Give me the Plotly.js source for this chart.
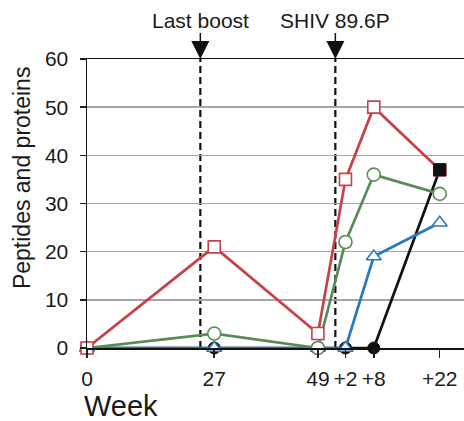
<!DOCTYPE html>
<html>
<head>
<meta charset="utf-8">
<script src="https://cdn.plot.ly/plotly-3.0.1.min.js"></script>
<style>html,body{margin:0;padding:0;background:#fff;}#chart{width:464px;height:421px;}</style>
</head>
<body>
<div id="chart"></div>
<script>
// Week positions on a continuous time axis (challenge at ~week 52.85)
const weekPos = [0, 27, 49, 54.85, 60.85, 74.85];
const tickText = ['0', '27', '49', '+2', '+8', '+22'];
const lastBoostWeek = 24.05;
const challengeWeek = 52.7;

// Series values (number of peptides and proteins)
const redValues   = [0, 21, 3, 35, 50, 37];
const greenValues = [0, 3, 0, 22, 36, 32];
const blueValues  = [0, 0, 0, 0, 19, 26];
const blackValues = [0, 0, 0, 0, 0, 37];

const RED = '#c8404a', GREEN = '#5a8a58', BLUE = '#2a7abb', BLACK = '#111111';
const FONT = 'Liberation Sans, Arial, sans-serif';

function openTrace(y, color, symbol, size) {
  return {
    x: weekPos, y: y, type: 'scatter', mode: 'lines+markers', cliponaxis: false,
    line: {color: color, width: 2.7},
    marker: {symbol: symbol, size: size, color: '#ffffff', line: {color: color, width: 1.6}},
    hoverinfo: 'skip'
  };
}

const blackSymbols = blackValues.map((v, i) => i === blackValues.length - 1 ? 'square' : 'circle');
const traces = [
  {
    x: weekPos, y: blackValues, type: 'scatter', mode: 'lines+markers', cliponaxis: false,
    line: {color: BLACK, width: 2.7},
    marker: {symbol: blackSymbols, size: 12, color: BLACK, line: {color: BLACK, width: 1}},
    hoverinfo: 'skip'
  },
  openTrace(blueValues, BLUE, 'triangle-up', 13),
  openTrace(greenValues, GREEN, 'circle', 13),
  openTrace(redValues, RED, 'square', 12),
  {
    x: weekPos.slice(-1), y: blackValues.slice(-1), type: 'scatter', mode: 'markers', cliponaxis: false,
    marker: {symbol: 'square', size: 12, color: BLACK, line: {color: BLACK, width: 1}},
    hoverinfo: 'skip'
  }
];

const layout = {
  width: 464, height: 421,
  margin: {l: 87, r: 0, t: 59, b: 73},
  paper_bgcolor: '#ffffff', plot_bgcolor: '#ffffff',
  showlegend: false,
  font: {family: FONT, color: '#1a1a1a'},
  xaxis: {
    range: [0, 80], fixedrange: true,
    tickmode: 'array', tickvals: weekPos, ticktext: tickText,
    ticks: 'outside', ticklen: 8, tickwidth: 1.5, tickcolor: '#222',
    tickfont: {size: 21, family: FONT, color: '#1a1a1a'},
    ticklabelstandoff: 3,
    showgrid: false, zeroline: false,
    showline: true, linecolor: '#111', linewidth: 1.5, mirror: true
  },
  yaxis: {
    range: [0, 60], fixedrange: true,
    tickvals: [0, 10, 20, 30, 40, 50, 60],
    ticks: 'outside', ticklen: 6, tickwidth: 1.5, tickcolor: '#222',
    tickfont: {size: 21, family: FONT, color: '#1a1a1a'},
    ticklabelstandoff: 7,
    showgrid: true, gridcolor: '#a6a6a6', gridwidth: 1.5, zeroline: false,
    showline: true, linecolor: '#111', linewidth: 1.5, mirror: false
  },
  shapes: [lastBoostWeek, challengeWeek].map(w => ({
    type: 'line', xref: 'x', yref: 'y', x0: w, x1: w, y0: 0, y1: 60,
    line: {color: '#111', width: 2.2, dash: '7px,4px'}, layer: 'below'
  })),
  annotations: [
    {x: lastBoostWeek, y: 60, xref: 'x', yref: 'y', text: 'Last boost', showarrow: true,
     ax: 0, ay: -39, arrowhead: 2, arrowsize: 2.4, arrowwidth: 1.5, arrowcolor: '#111',
     font: {size: 21, family: FONT, color: '#1a1a1a'}},
    {x: challengeWeek, y: 60, xref: 'x', yref: 'y', text: 'SHIV 89.6P', showarrow: true,
     ax: 0, ay: -39, arrowhead: 2, arrowsize: 2.4, arrowwidth: 1.5, arrowcolor: '#111',
     font: {size: 21, family: FONT, color: '#1a1a1a'}},
    {x: -0.013, y: -0.2, xref: 'paper', yref: 'paper', xanchor: 'left', yanchor: 'middle',
     text: 'Week', showarrow: false, font: {size: 29, family: FONT, color: '#1a1a1a'}},
    {x: -0.1724, y: 0.588, xref: 'paper', yref: 'paper', xanchor: 'center', yanchor: 'middle',
     text: 'Peptides and proteins', textangle: -90, showarrow: false,
     font: {size: 23, family: FONT, color: '#1a1a1a'}}
  ]
};

Plotly.newPlot('chart', traces, layout, {staticPlot: true, displayModeBar: false});
</script>
</body>
</html>
